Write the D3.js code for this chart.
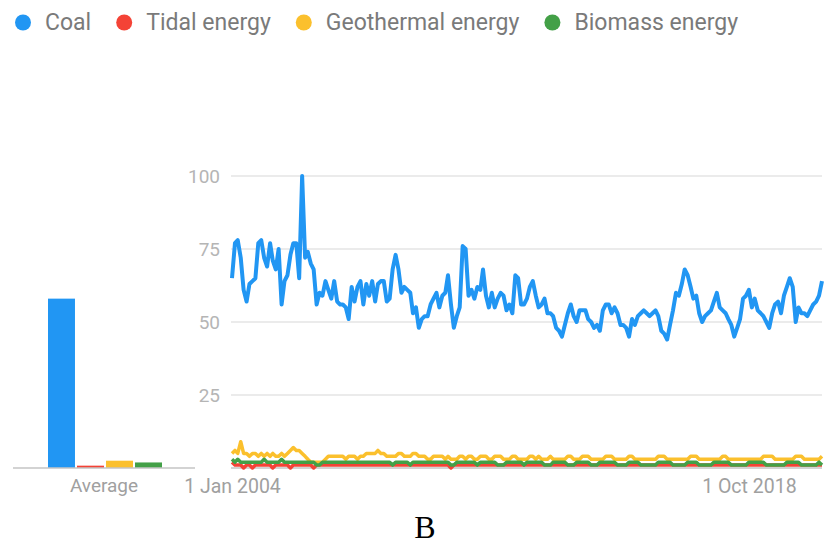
<!DOCTYPE html>
<html>
<head>
<meta charset="utf-8">
<script src="https://cdn.jsdelivr.net/npm/d3@7"></script>
<style>
body { margin: 0; background: #fff; }
svg { display: block; font-family: Roboto, sans-serif; }
</style>
</head>
<body>
<svg width="827" height="546"></svg>
<script>
const seriesNames = ['Coal', 'Tidal energy', 'Geothermal energy', 'Biomass energy'];
const seriesColors = ['#2196f3', '#f44336', '#fbc02d', '#43a047'];
const averages = [58, 0.8, 2.5, 1.9];
const yTicks = [25, 50, 75, 100];
const startMonth = new Date(2004, 0, 1);
const xTickDates = [new Date(2004, 0, 1), new Date(2018, 9, 1)];

// monthly search interest, Jan 2004 onwards
const coal = [
  65,77,78,72,61,57,63,64,65,77,78,72,69,77,71,68,75,56,64,66,73,77,77,65,
  100,72,74,70,68,56,60,59,64,61,58,64,57,56,56,55,51,62,57,62,64,56,63,59,
  64,57,63,64,64,57,58,68,73,68,60,62,61,60,53,55,48,51,52,
  52,56,58,60,55,59,60,66,56,48,52,55,76,75,59,61,58,62,61,68,59,55,60,55,
  58,60,59,54,56,53,66,65,56,56,58,62,64,59,55,56,58,53,53,52,48,47,45,49,
  53,56,52,50,54,54,54,51,50,48,49,47,54,56,56,53,55,53,49,
  49,48,45,51,49,52,53,54,53,52,53,54,52,47,46,44,49,54,60,59,63,68,66,62,
  58,59,53,50,52,53,54,57,60,55,54,53,51,49,45,48,51,58,59,61,55,58,54,53,
  52,50,48,53,56,57,53,59,62,65,62,50,55,53,53,52,54,56,57,59,64
];
const tidal = [
  2,1,1,1,0,1,1,0,1,1,1,1, 1,1,0,1,1,1,1,1,0,1,1,1, 1,1,1,1,0,1,1,1,1,1,1,1,
  1,1,1,1,1,1,1,1,1,1,1,1, 1,1,1,1,1,1,1,1,1,1,1,1, 1,1,1,1,1,1,1,1,1,1,1,1,
  1,1,1,0,1,1,1,1,1,1,1,1, 1,1,1,1,1,1,1,1,1,1,1,1, 1,1,1,1,1,1,1,1,1,1,1,1,
  1,1,1,1,1,1,1,1,1,1,1,1, 1,1,1,1,1,1,1,1,1,1,1,1, 1,1,1,1,1,1,1,1,1,1,1,1,
  1,1,1,1,1,1,1,1,1,1,1,1, 1,1,1,1,1,1,1,1,1,1,1,1, 1,1,1,1,1,1,1,1,1,1,1,1,
  1,1,1,1,1,1,1,1,1,1,1,1, 1,1,1,1,1,1,1,1,1,1,1
];
const geothermal = [
  5,6,5,9,5,5,4,5,5,4,5,4, 5,4,5,4,4,5,4,5,6,7,6,6, 5,4,3,2,2,2,2,2,3,4,4,4,
  4,4,4,3,4,4,4,3,4,4,5,5, 5,5,6,5,5,4,4,4,4,5,5,4, 4,4,5,5,4,4,4,3,3,4,4,4,
  4,3,4,3,3,3,4,4,3,4,4,3, 3,4,4,4,3,3,4,4,4,3,3,3, 4,4,3,3,3,3,4,4,3,4,3,3,
  3,4,3,3,3,3,3,4,4,3,3,3, 4,4,4,3,3,3,3,3,4,4,4,3, 3,3,3,3,4,4,3,3,3,3,3,3,
  3,3,4,4,4,3,3,3,3,3,3,3, 3,4,4,4,3,3,3,3,3,3,3,3, 4,4,3,3,3,3,3,3,3,3,3,3,
  3,3,4,4,4,4,3,3,3,3,3,3, 3,4,4,4,3,3,3,3,3,3,4
];
const biomass = [
  3,2,3,2,2,2,2,2,2,2,2,3, 2,2,2,2,2,3,2,2,2,2,2,2, 2,2,2,2,2,1,1,2,2,2,2,2,
  2,2,2,2,2,2,2,2,2,2,2,2, 2,2,2,2,2,2,2,1,2,2,2,2, 2,1,2,2,2,2,2,2,2,2,2,2,
  2,2,2,1,1,2,2,2,2,2,2,2, 1,2,2,2,2,2,2,1,1,1,2,2, 2,2,2,2,1,2,2,2,2,2,2,1,
  1,1,2,2,2,2,2,1,1,1,2,2, 2,2,2,1,1,1,2,2,2,2,2,2, 1,1,1,1,2,2,2,2,1,1,1,1,
  1,1,2,2,2,2,2,1,1,1,1,1, 2,2,2,2,1,1,1,1,1,2,2,2, 2,2,2,1,1,1,1,1,1,2,2,2,
  2,2,2,1,1,1,1,1,1,1,2,2, 2,2,2,1,1,1,1,1,1,2,1
];
const seriesValues = [coal, tidal, geothermal, biomass];

const svg = d3.select('svg');

const y = d3.scaleLinear().domain([0, 100]).range([468, 176]);
const x = d3.scaleTime()
  .domain([startMonth, d3.timeMonth.offset(startMonth, coal.length - 1)])
  .range([232, 822]);
const xBar = d3.scaleBand().domain(seriesNames).range([48, 162]).paddingInner(0.07);

// legend
let lx = 23;
seriesNames.forEach((name, i) => {
  svg.append('circle').attr('cx', lx).attr('cy', 22.5).attr('r', 8).attr('fill', seriesColors[i]);
  const t = svg.append('text')
    .attr('x', lx + 22).attr('y', 30)
    .attr('font-size', 23).attr('fill', '#7a7a7a')
    .text(name);
  lx += 22 + t.node().getComputedTextLength() + 33;
});

// grid
svg.append('g').selectAll('line').data(yTicks).join('line')
  .attr('x1', 231).attr('x2', 822)
  .attr('y1', d => y(d)).attr('y2', d => y(d))
  .attr('stroke', '#e4e4e4').attr('stroke-width', 1.5);

svg.append('g').selectAll('text').data(yTicks).join('text')
  .attr('x', 220).attr('y', d => y(d)).attr('dy', '0.35em')
  .attr('text-anchor', 'end').attr('font-size', 19).attr('fill', '#b5b5b5')
  .text(d => d);

// average bars
svg.append('g').selectAll('rect').data(averages).join('rect')
  .attr('x', (d, i) => xBar(seriesNames[i]))
  .attr('width', xBar.bandwidth())
  .attr('y', d => y(d))
  .attr('height', d => y(0) - y(d))
  .attr('fill', (d, i) => seriesColors[i]);

svg.append('line').attr('x1', 13).attr('x2', 195).attr('y1', y(0)).attr('y2', y(0))
  .attr('stroke', '#c4c4c4').attr('stroke-width', 1.5);
svg.append('line').attr('x1', 231).attr('x2', 822).attr('y1', y(0)).attr('y2', y(0))
  .attr('stroke', '#c4c4c4').attr('stroke-width', 1.5);

svg.append('text').attr('x', 104).attr('y', 492).attr('text-anchor', 'middle')
  .attr('font-size', 19).attr('fill', '#a0a0a0').text('Average');

// lines
const line = d3.line()
  .x((d, i) => x(d3.timeMonth.offset(startMonth, i)))
  .y(d => y(d));

seriesValues.forEach((vals, i) => {
  svg.append('path').datum(vals)
    .attr('d', line)
    .attr('fill', 'none')
    .attr('stroke', seriesColors[i])
    .attr('stroke-width', i === 0 ? 4 : 3.5)
    .attr('stroke-linejoin', 'round');
});

// x axis labels
const xAxis = svg.append('g').attr('transform', `translate(0, ${y(0)})`)
  .call(d3.axisBottom(x).tickValues(xTickDates).tickFormat(d3.timeFormat('%-d %b %Y')).tickSize(0).tickPadding(11));
xAxis.select('.domain').remove();
xAxis.selectAll('text').attr('font-size', 19.5).attr('font-family', 'Roboto, sans-serif').attr('fill', '#a0a0a0');

svg.append('text').attr('x', 425).attr('y', 538).attr('text-anchor', 'middle')
  .attr('font-family', '"Liberation Serif", "Times New Roman", serif')
  .attr('font-size', 32).attr('fill', '#000').text('B');
</script>
</body>
</html>
